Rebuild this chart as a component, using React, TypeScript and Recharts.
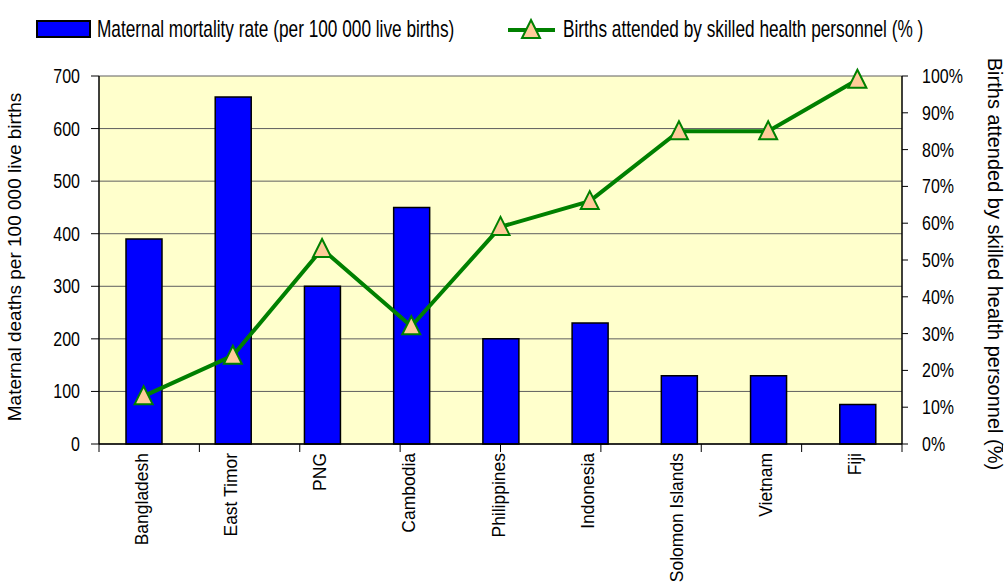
import React from "react";
import {
  ComposedChart,
  Bar,
  Line,
  XAxis,
  YAxis,
  CartesianGrid,
  Legend,
} from "recharts";

const countries = [
  "Bangladesh",
  "East Timor",
  "PNG",
  "Cambodia",
  "Philippines",
  "Indonesia",
  "Solomon Islands",
  "Vietnam",
  "Fiji",
];
const mortality = [390, 660, 300, 450, 200, 230, 130, 130, 75];
const attended = [13, 24, 53, 32, 59, 66, 85, 85, 99];
const leftTicks = [0, 100, 200, 300, 400, 500, 600, 700];
const rightTicks = [0, 10, 20, 30, 40, 50, 60, 70, 80, 90, 100];
const edgeTicks = [0, 1, 2, 3, 4, 5, 6, 7, 8, 9];

const data = countries.map((name, i) => ({
  name,
  mortality: mortality[i],
  attended: attended[i],
}));

const FONT = "'Liberation Sans', Arial, sans-serif";

// narrow-looking tick text, like the original export
const LeftTick = (props: any) => {
  const { x, y, payload } = props;
  return (
    <g transform={`translate(${x},${y})`}>
      <text
        transform="scale(0.82,1)"
        textAnchor="end"
        dy="0.36em"
        fontSize={19.5}
        fontFamily={FONT}
        fill="#000"
      >
        {payload.value}
      </text>
    </g>
  );
};

const RightTick = (props: any) => {
  const { x, y, payload } = props;
  return (
    <g transform={`translate(${x},${y})`}>
      <text
        transform="scale(0.82,1)"
        textAnchor="start"
        dy="0.36em"
        fontSize={19.5}
        fontFamily={FONT}
        fill="#000"
      >
        {`${payload.value}%`}
      </text>
    </g>
  );
};

const CountryTick = (props: any) => {
  const { x, y, payload } = props;
  return (
    <g transform={`translate(${x + 4},${y}) rotate(-90) scale(0.92,1)`}>
      <text textAnchor="end" fontSize={19} fontFamily={FONT} fill="#000">
        {payload.value}
      </text>
    </g>
  );
};

const Triangle = (props: any) => {
  const { cx, cy } = props;
  if (cx == null || cy == null) return null;
  return (
    <polygon
      points={`${cx},${cy - 10} ${cx + 9},${cy + 8} ${cx - 9},${cy + 8}`}
      fill="#FFCC99"
      stroke="#008000"
      strokeWidth={2}
    />
  );
};

const ChartLegend = () => (
  <svg width={1006} height={50} style={{ display: "block" }}>
    <rect x={37} y={21} width={53} height={16} fill="#0000FF" stroke="#000" strokeWidth={2} />
    <g transform="translate(97,37) scale(0.75,1)">
      <text fontSize={23} fontFamily={FONT} fill="#000">
        Maternal mortality rate (per 100 000 live births)
      </text>
    </g>
    <line x1={508} y1={30} x2={555} y2={30} stroke="#008000" strokeWidth={4} />
    <polygon points="531,20 540,38 522,38" fill="#FFCC99" stroke="#008000" strokeWidth={2} />
    <g transform="translate(563,37) scale(0.75,1)">
      <text fontSize={23} fontFamily={FONT} fill="#000">
        Births attended by skilled health personnel (% )
      </text>
    </g>
  </svg>
);

export default function App() {
  return (
    <div style={{ position: "absolute", left: 0, top: 0, background: "#fff" }}>
      <ComposedChart
        width={1006}
        height={582}
        data={data}
        margin={{ top: 76, right: 0, bottom: 0, left: 0 }}
      >
        <CartesianGrid
          xAxisId="cat"
          yAxisId="left"
          vertical={false}
          fill="#FFFFCC"
          stroke="#5F5F5F"
          strokeWidth={1}
        />
        {/* axis line + tick marks between the categories */}
        <XAxis
          xAxisId="bounds"
          type="number"
          domain={[0, 9]}
          ticks={edgeTicks}
          interval={0}
          allowDataOverflow
          height={1}
          axisLine={{ stroke: "#000", strokeWidth: 1.5 }}
          tickLine={{ stroke: "#000", strokeWidth: 1 }}
          tickSize={8}
          tickFormatter={() => ""}
        />
        <XAxis
          xAxisId="cat"
          dataKey="name"
          interval={0}
          height={137}
          axisLine={false}
          tickLine={false}
          tickSize={0}
          tickMargin={8}
          tick={<CountryTick />}
        />
        <YAxis
          yAxisId="left"
          width={99}
          domain={[0, 700]}
          ticks={leftTicks}
          interval={0}
          axisLine={{ stroke: "#000", strokeWidth: 1.5 }}
          tickLine={{ stroke: "#000" }}
          tickSize={8}
          tickMargin={11}
          tick={<LeftTick />}
          label={(p: any) => {
            const vb = p.viewBox;
            const cx = 21;
            const cy = vb.y + vb.height / 2 - 3;
            return (
              <text
                x={cx}
                y={cy}
                transform={`rotate(-90, ${cx}, ${cy})`}
                textAnchor="middle"
                fontSize={19}
                fontFamily={FONT}
                fill="#000"
              >
                Maternal deaths per 100 000 live births
              </text>
            );
          }}
        />
        <YAxis
          yAxisId="right"
          orientation="right"
          width={104}
          domain={[0, 100]}
          ticks={rightTicks}
          interval={0}
          axisLine={{ stroke: "#000", strokeWidth: 1.5 }}
          tickLine={{ stroke: "#000" }}
          tickSize={6}
          tickMargin={14}
          tick={<RightTick />}
          label={(p: any) => {
            const vb = p.viewBox;
            const cx = vb.x + 86;
            const cy = vb.y + vb.height / 2 + 4;
            return (
              <text
                x={cx}
                y={cy}
                transform={`rotate(90, ${cx}, ${cy})`}
                textAnchor="middle"
                fontSize={20}
                fontFamily={FONT}
                fill="#000"
              >
                Births attended by skilled health personnel (%)
              </text>
            );
          }}
        />
        <Legend
          layout="horizontal"
          verticalAlign="middle"
          align="center"
          wrapperStyle={{ top: 0, left: 0, width: 1006 }}
          content={() => <ChartLegend />}
        />
        <Bar
          xAxisId="cat"
          yAxisId="left"
          dataKey="mortality"
          name="Maternal mortality rate (per 100 000 live births)"
          barSize={36}
          fill="#0000FF"
          stroke="#000"
          strokeWidth={1.5}
          isAnimationActive={false}
        />
        <Line
          xAxisId="cat"
          yAxisId="right"
          type="linear"
          dataKey="attended"
          name="Births attended by skilled health personnel (%)"
          stroke="#008000"
          strokeWidth={4}
          dot={<Triangle />}
          activeDot={false}
          isAnimationActive={false}
        />
      </ComposedChart>
    </div>
  );
}
